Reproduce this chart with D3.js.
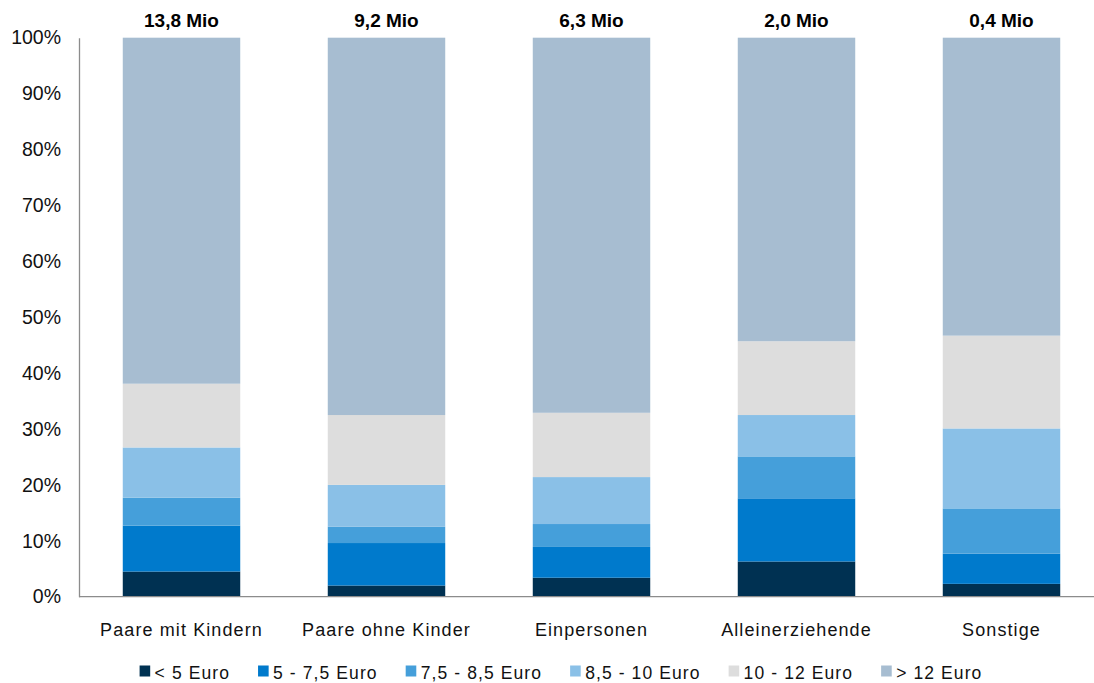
<!DOCTYPE html>
<html>
<head>
<meta charset="utf-8">
<script src="https://cdn.jsdelivr.net/npm/d3@7"></script>
<style>
  html, body { margin: 0; padding: 0; background: #fff; }
  svg { display: block; font-family: "Liberation Sans", Arial, sans-serif; }
</style>
</head>
<body>
<svg id="chart" width="1094" height="683"></svg>
<script>
// Haushaltstypen
const categories = ["Paare mit Kindern", "Paare ohne Kinder", "Einpersonen", "Alleinerziehende", "Sonstige"];
// Anzahl je Haushaltstyp
const totals = ["13,8 Mio", "9,2 Mio", "6,3 Mio", "2,0 Mio", "0,4 Mio"];
// Lohngruppen
const groups = ["< 5 Euro", "5 - 7,5 Euro", "7,5 - 8,5 Euro", "8,5 - 10 Euro", "10 - 12 Euro", "> 12 Euro"];
// Anteile in % je Lohngruppe (Reihenfolge wie categories)
const lt5     = [4.5, 2.0, 3.4, 6.3, 2.3];
const from5   = [8.2, 7.6, 5.5, 11.3, 5.4];
const from75  = [5.0, 2.9, 4.1, 7.5, 8.1];
const from85  = [9.0, 7.5, 8.4, 7.4, 14.3];
const from10  = [11.4, 12.5, 11.5, 13.2, 16.6];
const gt12    = [61.9, 67.5, 67.1, 54.3, 53.3];
const yTicks = [0, 10, 20, 30, 40, 50, 60, 70, 80, 90, 100];

const series = [lt5, from5, from75, from85, from10, gt12];
const colors = ["#003152", "#007acc", "#459fda", "#8ac0e7", "#dddddd", "#a7bdd1"];

const rows = categories.map((c, i) => {
  const r = { cat: c };
  groups.forEach((g, j) => { r[g] = series[j][i]; });
  return r;
});

const svg = d3.select("#chart");
const plotLeft = 79, plotRight = 1104, plotTop = 37.7, plotBottom = 596.7;

const x = d3.scaleBand().domain(categories).range([plotLeft, plotRight])
  .paddingInner(0.427).paddingOuter(0.2135);
const y = d3.scaleLinear().domain([0, 100]).range([plotBottom, plotTop]);
const color = d3.scaleOrdinal().domain(groups).range(colors);

const stacked = d3.stack().keys(groups)(rows);

// Stapelbalken
svg.append("g").selectAll("g").data(stacked).join("g")
  .attr("fill", d => color(d.key))
  .selectAll("rect").data(d => d).join("rect")
  .attr("x", d => x(d.data.cat))
  .attr("width", x.bandwidth())
  .attr("y", d => y(d[1]))
  .attr("height", d => y(d[0]) - y(d[1]));

// y-Achse
const yAxis = svg.append("g").attr("transform", `translate(${plotLeft},0)`)
  .call(d3.axisLeft(y).tickValues(yTicks).tickFormat(d => d + "%").tickSize(0).tickPadding(18));
yAxis.select(".domain").attr("stroke", "#8c8c8c").attr("stroke-width", 1.3);
yAxis.selectAll("text").attr("font-size", "19.5px").attr("fill", "#111")
  .attr("font-family", "Liberation Sans, Arial, sans-serif");

// x-Grundlinie
svg.append("line")
  .attr("x1", plotLeft).attr("x2", 1094)
  .attr("y1", y(0)).attr("y2", y(0))
  .attr("stroke", "#8c8c8c").attr("stroke-width", 1.3);

// Kategorienbeschriftung
svg.append("g").selectAll("text").data(categories).join("text")
  .attr("x", d => x(d) + x.bandwidth() / 2)
  .attr("y", 636)
  .attr("text-anchor", "middle")
  .attr("font-size", "18px")
  .attr("letter-spacing", "1.1px")
  .attr("fill", "#111")
  .text(d => d);

// Gesamtzahl über den Balken
svg.append("g").selectAll("text").data(categories).join("text")
  .attr("x", d => x(d) + x.bandwidth() / 2)
  .attr("y", 26.7)
  .attr("text-anchor", "middle")
  .attr("font-size", "19px")
  .attr("font-weight", "bold")
  .attr("fill", "#000")
  .text((d, i) => totals[i]);

// Legende
const legend = svg.append("g");
const items = legend.selectAll("g").data(groups).join("g");
items.append("rect")
  .attr("width", 10.6).attr("height", 11)
  .attr("y", 665.5)
  .attr("fill", d => color(d));
items.append("text")
  .attr("x", 15).attr("y", 678.5)
  .attr("font-size", "17.5px")
  .attr("letter-spacing", "1.1px")
  .attr("fill", "#111")
  .text(d => d);
let cx = 0;
const pos = [];
items.each(function () {
  pos.push(cx);
  cx += 15 + d3.select(this).select("text").node().getComputedTextLength() + 28;
});
const legendWidth = cx - 28;
const startX = 561 - legendWidth / 2;
items.attr("transform", (d, i) => `translate(${startX + pos[i]},0)`);
</script>
</body>
</html>
